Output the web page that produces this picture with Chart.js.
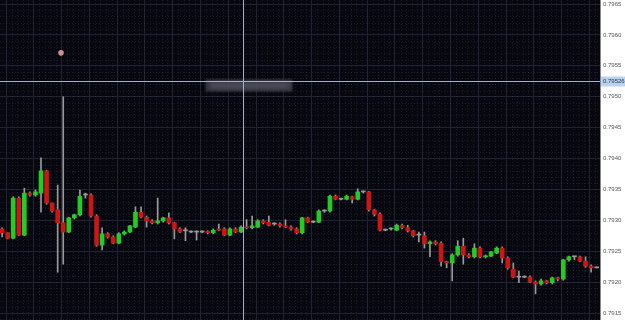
<!DOCTYPE html>
<html>
<head>
<meta charset="utf-8">
<script src="https://cdn.jsdelivr.net/npm/chart.js@4.4.0/dist/chart.umd.min.js"></script>
<style>
html, body { margin: 0; padding: 0; background: #fff; }
#wrap { width: 625px; height: 320px; }
</style>
</head>
<body>
<div id="wrap"><canvas id="chart"></canvas></div>
<script>
// candles, one per bar
const opens = [
  0.79286,0.79280,0.79271,0.79336,0.79276,0.79344,0.79341,0.79344,0.79380,0.79328,
  0.79317,0.79296,0.79281,0.79304,0.79309,0.79341,0.79341,0.79307,0.79260,0.79278,
  0.79273,0.79263,0.79278,0.79281,0.79289,0.79313,0.79305,0.79299,0.79296,0.79299,
  0.79304,0.79296,0.79286,0.79283,0.79281,0.79281,0.79281,0.79281,0.79280,0.79286,
  0.79286,0.79276,0.79286,0.79281,0.79289,0.79288,0.79289,0.79299,0.79297,0.79294,
  0.79294,0.79291,0.79289,0.79286,0.79280,0.79304,0.79297,0.79297,0.79315,0.79315,
  0.79339,0.79334,0.79334,0.79338,0.79334,0.79346,0.79346,0.79317,0.79310,0.79284,
  0.79286,0.79284,0.79292,0.79288,0.79283,0.79276,0.79275,0.79262,0.79265,0.79263,
  0.79233,0.79231,0.79244,0.79258,0.79244,0.79241,0.79255,0.79241,0.79242,0.79247,
  0.79255,0.79239,0.79221,0.79208,0.79208,0.79208,0.79200,0.79197,0.79202,0.79199,
  0.79207,0.79205,0.79236,0.79241,0.79241,0.79234,0.79226,0.79223
]
const highs = [
  0.79288,0.79280,0.79338,0.79338,0.79352,0.79346,0.79349,0.79401,0.79381,0.79328,
  0.79357,0.79500,0.79305,0.79310,0.79349,0.79344,0.79343,0.79309,0.79288,0.79280,
  0.79275,0.79280,0.79283,0.79292,0.79322,0.79322,0.79307,0.79301,0.79336,0.79305,
  0.79312,0.79297,0.79288,0.79288,0.79283,0.79283,0.79283,0.79283,0.79286,0.79294,
  0.79288,0.79288,0.79288,0.79291,0.79301,0.79307,0.79301,0.79301,0.79307,0.79296,
  0.79296,0.79301,0.79291,0.79288,0.79305,0.79305,0.79299,0.79317,0.79317,0.79341,
  0.79341,0.79336,0.79341,0.79339,0.79351,0.79347,0.79347,0.79318,0.79312,0.79286,
  0.79288,0.79294,0.79294,0.79292,0.79284,0.79281,0.79281,0.79267,0.79267,0.79265,
  0.79234,0.79246,0.79267,0.79271,0.79246,0.79262,0.79257,0.79244,0.79250,0.79257,
  0.79257,0.79241,0.79231,0.79218,0.79210,0.79210,0.79202,0.79205,0.79203,0.79208,
  0.79208,0.79237,0.79242,0.79242,0.79242,0.79241,0.79228,0.79223
]
const lows = [
  0.79273,0.79270,0.79270,0.79275,0.79275,0.79339,0.79339,0.79313,0.79326,0.79313,
  0.79216,0.79229,0.79280,0.79302,0.79307,0.79336,0.79305,0.79258,0.79252,0.79271,
  0.79262,0.79262,0.79276,0.79280,0.79288,0.79304,0.79289,0.79294,0.79294,0.79297,
  0.79294,0.79270,0.79280,0.79267,0.79280,0.79268,0.79280,0.79278,0.79278,0.79283,
  0.79275,0.79275,0.79280,0.79280,0.79286,0.79286,0.79288,0.79294,0.79291,0.79292,
  0.79289,0.79288,0.79284,0.79278,0.79278,0.79296,0.79296,0.79296,0.79313,0.79313,
  0.79333,0.79333,0.79333,0.79328,0.79333,0.79344,0.79315,0.79307,0.79283,0.79283,
  0.79284,0.79283,0.79286,0.79281,0.79273,0.79265,0.79255,0.79241,0.79260,0.79226,
  0.79223,0.79202,0.79242,0.79229,0.79239,0.79239,0.79239,0.79239,0.79241,0.79246,
  0.79231,0.79221,0.79207,0.79199,0.79207,0.79199,0.79181,0.79195,0.79197,0.79197,
  0.79202,0.79203,0.79234,0.79236,0.79233,0.79224,0.79216,0.79223
]
const closes = [
  0.79280,0.79271,0.79336,0.79276,0.79344,0.79341,0.79346,0.79380,0.79328,0.79315,
  0.79296,0.79281,0.79304,0.79309,0.79339,0.79341,0.79307,0.79260,0.79278,0.79273,
  0.79263,0.79278,0.79281,0.79291,0.79313,0.79305,0.79299,0.79296,0.79299,0.79304,
  0.79296,0.79286,0.79281,0.79283,0.79281,0.79281,0.79281,0.79280,0.79284,0.79284,
  0.79276,0.79286,0.79281,0.79289,0.79288,0.79291,0.79299,0.79296,0.79292,0.79294,
  0.79291,0.79289,0.79286,0.79280,0.79304,0.79297,0.79297,0.79315,0.79315,0.79339,
  0.79334,0.79334,0.79339,0.79334,0.79346,0.79346,0.79317,0.79310,0.79284,0.79284,
  0.79286,0.79292,0.79288,0.79283,0.79275,0.79276,0.79262,0.79265,0.79262,0.79233,
  0.79231,0.79244,0.79258,0.79244,0.79241,0.79255,0.79241,0.79242,0.79249,0.79255,
  0.79239,0.79223,0.79208,0.79208,0.79208,0.79200,0.79197,0.79202,0.79199,0.79207,
  0.79205,0.79236,0.79241,0.79241,0.79234,0.79226,0.79223,0.79223
]

const priceTicks = [0.7915, 0.7920, 0.7925, 0.7930, 0.7935, 0.7940, 0.7945, 0.7950, 0.7955, 0.7960, 0.7965]

// the pink marker near the long wick
const markerX = [10.6]
const markerY = [0.79571]

// cursor position
const crossX = 43.35
const crossPrice = 0.79526
const crossLabel = '0.79526'

const GREEN = '#22cc22'
const RED = '#cc1616'
const DOJI = '#9a9a9a'
const WICK = '#9a9a9a'
const BG = '#07080f'
const GRID = '#1f2333'
const GRID_MINOR = 'rgba(140,150,190,0.14)'

const bodyColors = opens.map((o, i) => closes[i] > o ? GREEN : (closes[i] < o ? RED : DOJI))

const bodies = opens.map((o, i) => ({ x: i, y: [o, closes[i]] }))
const wicks = lows.map((l, i) => ({ x: i, y: [l, highs[i]] }))
const markers = markerX.map((x, i) => ({ x: x, y: markerY[i] }))

// vertical grid every 5 bars, between bars
const xGrid = []
for (let v = 0.7; v < opens.length; v += 5) xGrid.push(v)

function noPadding(axis) {
    axis.paddingTop = 0
    axis.paddingBottom = 0
    axis.paddingLeft = 0
    axis.paddingRight = 0
}

const backdrop = {
    id: 'backdrop',
    beforeDraw(chart) {
        const { ctx, chartArea: a } = chart
        ctx.save()
        ctx.fillStyle = '#ffffff'
        ctx.fillRect(0, 0, chart.width, chart.height)
        ctx.fillStyle = BG
        ctx.fillRect(a.left, a.top, a.right - a.left, a.bottom - a.top)
        ctx.restore()
    },
    beforeDatasetsDraw(chart) {
        const { ctx, chartArea: a, scales } = chart
        ctx.save()
        ctx.beginPath()
        ctx.rect(a.left, a.top, a.right - a.left, a.bottom - a.top)
        ctx.clip()
        ctx.strokeStyle = GRID_MINOR
        ctx.lineWidth = 1
        ctx.setLineDash([1, 2])
        for (let k = 0; k < opens.length; k++) {
            if (k % 5 === 0) continue
            const px = Math.round(scales.x.getPixelForValue(0.7 + k)) + 0.5
            ctx.beginPath(); ctx.moveTo(px, a.top); ctx.lineTo(px, a.bottom); ctx.stroke()
        }
        for (let n = 79130; n <= 79670; n += 10) {
            if (n % 50 === 0) continue
            const py = Math.round(scales.y.getPixelForValue(n / 100000)) + 0.5
            ctx.beginPath(); ctx.moveTo(a.left, py); ctx.lineTo(a.right, py); ctx.stroke()
        }
        ctx.restore()
    },
    afterDraw(chart) {
        const { ctx, chartArea: a, scales } = chart
        const cx = Math.round(scales.x.getPixelForValue(crossX)) + 0.5
        const cy = Math.round(scales.y.getPixelForValue(crossPrice)) + 0.5
        ctx.save()
        // blurred data window
        ctx.filter = 'blur(1px)'
        ctx.fillStyle = 'rgba(62,62,74,0.8)'
        ctx.fillRect(cx - 38, cy - 2, 87, 12)
        ctx.filter = 'blur(2px)'
        ctx.fillStyle = 'rgba(105,105,118,0.5)'
        ctx.fillRect(cx - 34, cy + 1, 80, 6)
        ctx.filter = 'none'
        // crosshair
        ctx.strokeStyle = '#a9b0c6'
        ctx.lineWidth = 1
        ctx.beginPath(); ctx.moveTo(cx, a.top); ctx.lineTo(cx, a.bottom); ctx.stroke()
        ctx.beginPath(); ctx.moveTo(a.left, cy); ctx.lineTo(a.right, cy); ctx.stroke()
        // price label on the axis
        ctx.fillStyle = '#b9d3ee'
        ctx.fillRect(a.right + 1, cy - 5, chart.width - a.right - 1, 10)
        ctx.fillStyle = '#2a3550'
        ctx.font = '6px "Liberation Sans"'
        ctx.textBaseline = 'middle'
        ctx.fillText(crossLabel, a.right + 3, cy)
        ctx.restore()
    }
}

new Chart(document.getElementById('chart'), {
    type: 'bar',
    data: {
        datasets: [
            {
                label: 'body',
                data: bodies,
                backgroundColor: bodyColors,
                borderWidth: 0,
                barThickness: 4,
                minBarLength: 1,
                grouped: false,
                order: 0
            },
            {
                label: 'wick',
                data: wicks,
                backgroundColor: WICK,
                borderWidth: 0,
                barThickness: 1,
                minBarLength: 1,
                grouped: false,
                order: 1
            },
            {
                type: 'scatter',
                label: 'marker',
                data: markers,
                backgroundColor: '#d68c8c',
                borderWidth: 0,
                pointRadius: 2.8,
                order: 0
            }
        ]
    },
    options: {
        responsive: true,
        maintainAspectRatio: false,
        animation: false,
        layout: { padding: 0, autoPadding: false },
        plugins: { legend: { display: false }, tooltip: { enabled: false } },
        scales: {
            x: {
                type: 'linear',
                offset: false,
                min: -0.38,
                max: 107.6,
                afterBuildTicks: axis => { axis.ticks = xGrid.map(v => ({ value: v })) },
                afterFit: axis => { axis.height = 0; noPadding(axis) },
                ticks: { display: false },
                grid: { color: GRID, drawTicks: false, offset: false },
                border: { display: false }
            },
            y: {
                type: 'linear',
                position: 'right',
                min: 0.791387,
                max: 0.796565,
                afterBuildTicks: axis => { axis.ticks = priceTicks.map(v => ({ value: v })) },
                afterFit: axis => { axis.width = 25; noPadding(axis) },
                ticks: {
                    color: '#555',
                    font: { family: 'Liberation Sans', size: 6 },
                    padding: 3,
                    callback: v => v.toFixed(4)
                },
                grid: { color: GRID, drawTicks: false },
                border: { color: '#8a8a8a' }
            }
        }
    },
    plugins: [backdrop]
})
</script>
</body>
</html>
